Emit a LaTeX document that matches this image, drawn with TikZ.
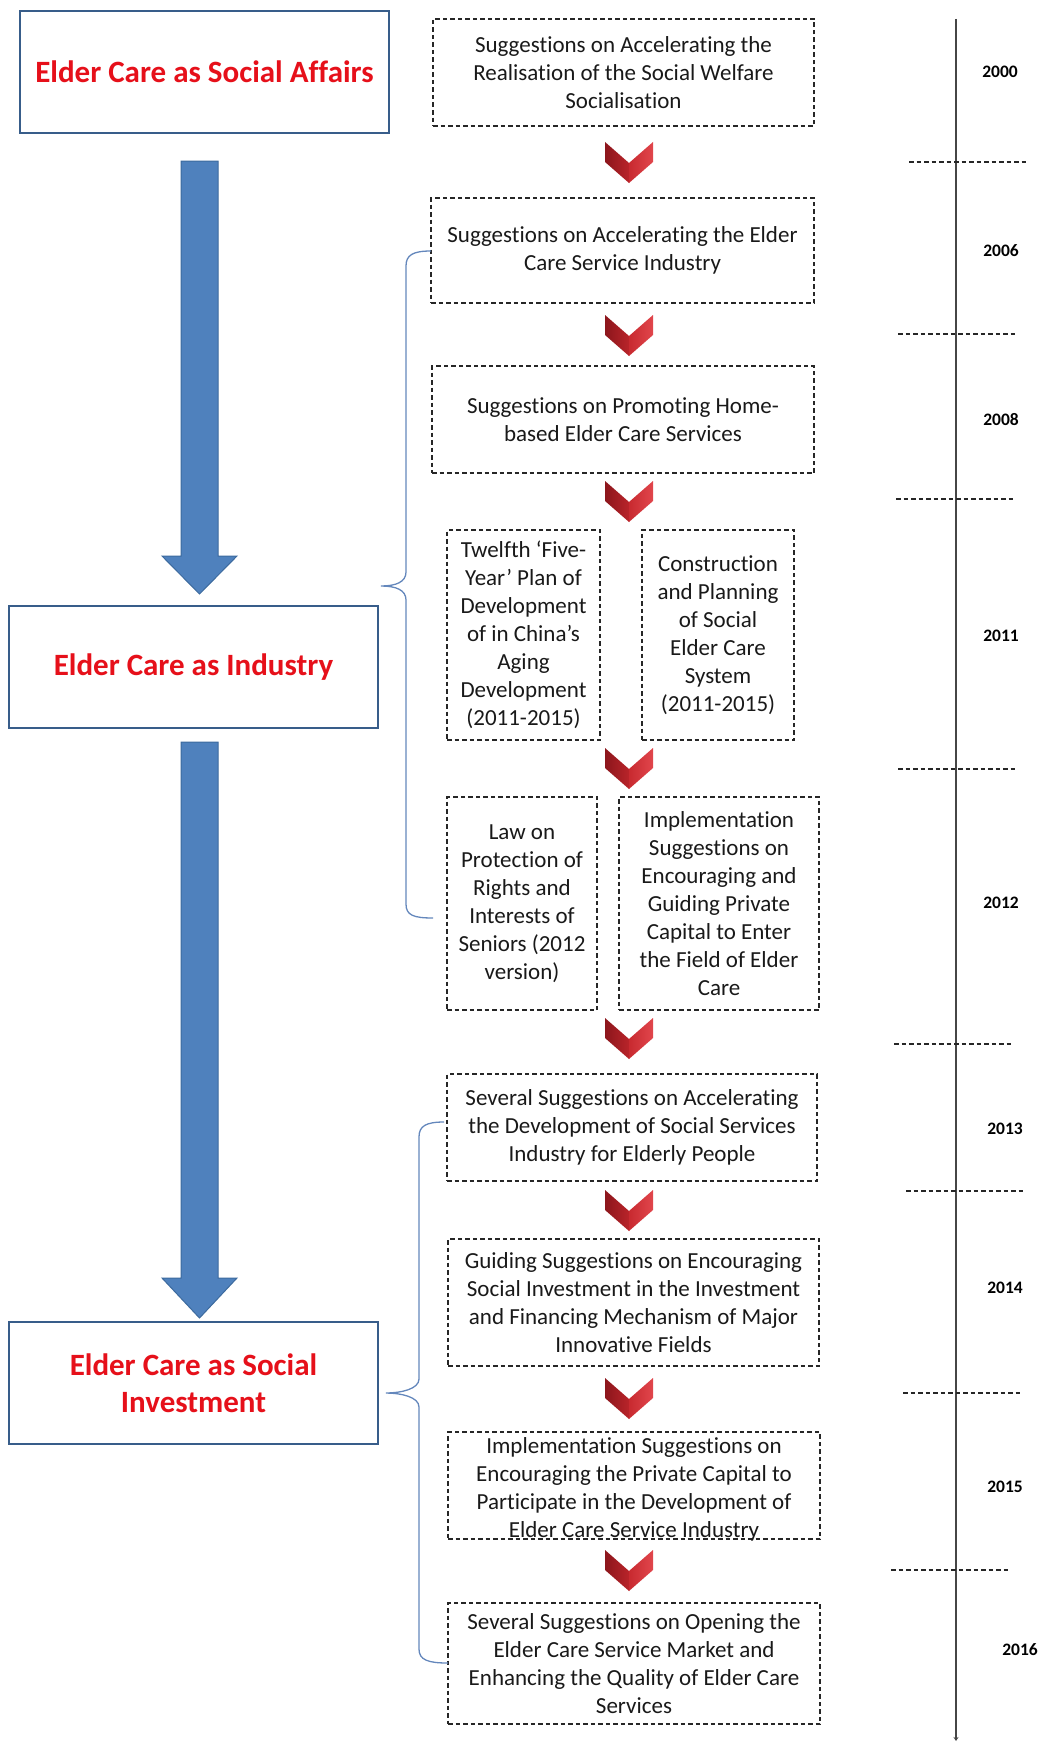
\documentclass[tikz,border=0pt]{standalone}
\usepackage{fontspec}
\setmainfont[Ligatures=CommonOff]{Carlito}
\usetikzlibrary{arrows.meta}

\definecolor{stageblue}{RGB}{56,93,138}
\definecolor{headred}{RGB}{230,16,26}
\definecolor{arrowfill}{RGB}{79,129,189}
\definecolor{arrowline}{RGB}{60,106,158}
\definecolor{bracecol}{RGB}{100,135,188}
\definecolor{chevdarkA}{RGB}{140,22,28}
\definecolor{chevdarkB}{RGB}{185,36,42}
\definecolor{chevlightA}{RGB}{200,42,48}
\definecolor{chevlightB}{RGB}{225,70,76}
\definecolor{lineGray}{RGB}{70,70,70}

\tikzset{
  stage/.style={draw=stageblue, line width=2.2pt, fill=white, minimum width=369pt,
    minimum height=122pt, inner sep=0pt, text=headred, align=center,
    font=\fontsize{31}{37.5}\selectfont\bfseries},
  pbox/.style={draw=black!85, dash pattern=on 4.5pt off 3pt, line width=1.1pt, inner sep=0pt},
  ptext/.style={font=\fontsize{23}{28}\selectfont, align=center, inner sep=0pt, text=black!90},
  yearlbl/.style={font=\fontsize{17.5}{20}\selectfont\bfseries, inner sep=0pt},
  blockarrow/.style={fill=arrowfill, draw=arrowline, line width=1pt, line join=miter},
  brace/.style={draw=bracecol, line width=1.3pt},
  sepline/.style={draw=black!85, dash pattern=on 4.5pt off 3pt, line width=1.1pt},
  timeline/.style={draw=lineGray, line width=1.6pt},
  chev/.pic={
    \shade[left color=chevdarkA, right color=chevdarkB]
      (-24,0) -- (0,21) -- (0,41) -- (-24,20) -- cycle;
    \shade[left color=chevlightA, right color=chevlightB]
      (24,0) -- (0,21) -- (0,41) -- (24,20) -- cycle;
  }
}

\begin{document}
\begin{tikzpicture}[x=1pt,y=-1pt]
\useasboundingbox (0,0) rectangle (1041,1742);

% ---- stages on the left ----
\node[stage] (affairs) at (204.5,72) {Elder Care as Social Affairs};
\node[stage] (industry) at (193.5,667) {Elder Care as Industry};
\node[stage] (invest) at (193.5,1383) {Elder Care as Social\\Investment};

% block arrows between the stages
\coordinate (a1s) at (199.5,161);
\coordinate (a1e) at (199.5,594);
\coordinate (a2s) at (199.5,742);
\coordinate (a2e) at (199.5,1318);
\draw[blockarrow] (a1s) ++(-18.5,0) -- ++(0,395) -- ++(-19,0) -- (a1e)
  -- ++(37.5,-38) -- ++(-19,0) -- ++(0,-395) -- cycle;
\draw[blockarrow] (a2s) ++(-18.5,0) -- ++(0,536) -- ++(-19,0) -- (a2e)
  -- ++(37.5,-40) -- ++(-19,0) -- ++(0,-536) -- cycle;

% ---- policy documents ----
\node[pbox, minimum width=381pt, minimum height=107pt] (b1) at (623.5,72.5) {};
\node[ptext] (t1) at (b1) {Suggestions on Accelerating the\\Realisation of the Social Welfare\\Socialisation};

\node[pbox, minimum width=383pt, minimum height=105pt] (b2) at (622.5,250.5) {};
\node[ptext] (t2) at (b2) {Suggestions on Accelerating the Elder\\Care Service Industry};

\node[pbox, minimum width=382pt, minimum height=107pt] (b3) at (623,419.5) {};
\node[ptext] (t3) at (b3) {Suggestions on Promoting Home-\\based Elder Care Services};

\node[pbox, minimum width=153pt, minimum height=210pt] (b4a) at (523.5,635) {};
\node[ptext] (t4a) at (b4a) {Twelfth ‘Five-\\Year’ Plan of\\Development\\of in China’s\\Aging\\Development\\(2011-2015)};

\node[pbox, minimum width=152pt, minimum height=210pt] (b4b) at (718,635) {};
\node[ptext] (t4b) at (b4b) {Construction\\and Planning\\of Social\\Elder Care\\System\\(2011-2015)};

\node[pbox, minimum width=150pt, minimum height=213pt] (b5a) at (522,903.5) {};
\node[ptext] (t5a) at (b5a) {Law on\\Protection of\\Rights and\\Interests of\\Seniors (2012\\version)};

\node[pbox, minimum width=200pt, minimum height=213pt] (b5b) at (719,903.5) {};
\node[ptext] (t5b) at (b5b) {Implementation\\Suggestions on\\Encouraging and\\Guiding Private\\Capital to Enter\\the Field of Elder\\Care};

\node[pbox, minimum width=370pt, minimum height=107pt] (b6) at (632,1127.5) {};
\node[ptext] (t6) at (b6) {Several Suggestions on Accelerating\\the Development of Social Services\\Industry for Elderly People};

\node[pbox, minimum width=371pt, minimum height=127pt] (b7) at (633.5,1302.5) {};
\node[ptext] (t7) at (b7) {Guiding Suggestions on Encouraging\\Social Investment in the Investment\\and Financing Mechanism of Major\\Innovative Fields};

\node[pbox, minimum width=372pt, minimum height=107pt] (b8) at (634,1485.5) {};
\node[ptext] (t8) at ([yshift=-4pt]b8.center) {Implementation Suggestions on\\Encouraging the Private Capital to\\Participate in the Development of\\Elder Care Service Industry};

\node[pbox, minimum width=372pt, minimum height=121pt] (b9) at (634,1663.5) {};
\node[ptext] (t9) at (b9) {Several Suggestions on Opening the\\Elder Care Service Market and\\Enhancing the Quality of Elder Care\\Services};

% chevrons between the documents
\pic (c1) at (629,142) {chev};
\pic (c2) at (629,315) {chev};
\pic (c3) at (629,481) {chev};
\pic (c4) at (629,748) {chev};
\pic (c5) at (629,1018) {chev};
\pic (c6) at (629,1190) {chev};
\pic (c7) at (629,1378) {chev};
\pic (c8) at (629,1550) {chev};

% ---- braces grouping documents by stage ----
\coordinate (br1a) at (431,251);
\coordinate (br1m) at (381,586);
\coordinate (br1b) at (433,918);
\draw[brace] (br1a) .. controls (413,251) and (406,255) .. (406,266)
  -- (406,572) .. controls (406,582) and (396,586) .. (br1m)
  .. controls (396,586) and (406,590) .. (406,600)
  -- (406,904) .. controls (406,915) and (413,918) .. (br1b);

\coordinate (br2a) at (444,1122);
\coordinate (br2m) at (386,1393);
\coordinate (br2b) at (448,1663);
\draw[brace] (br2a) .. controls (426,1122) and (419,1126) .. (419,1137)
  -- (419,1379) .. controls (419,1389) and (401,1393) .. (br2m)
  .. controls (401,1393) and (419,1397) .. (419,1407)
  -- (419,1649) .. controls (419,1660) and (428,1663) .. (br2b);

% ---- timeline ----
\coordinate (tltop) at (956,19);
\coordinate (tlbot) at (956,1741);
\draw[timeline, -{Stealth[length=4pt,width=5pt]}] (tltop) -- (tlbot);

\node[yearlbl] (y2000) at (1000,72) {2000};
\node[yearlbl] (y2006) at (1001,251) {2006};
\node[yearlbl] (y2008) at (1001,420) {2008};
\node[yearlbl] (y2011) at (1001,636) {2011};
\node[yearlbl] (y2012) at (1001,903) {2012};
\node[yearlbl] (y2013) at (1005,1129) {2013};
\node[yearlbl] (y2014) at (1005,1288) {2014};
\node[yearlbl] (y2015) at (1005,1487) {2015};
\node[yearlbl] (y2016) at (1020,1650) {2016};

% dashed year separators
\coordinate (s1a) at (909,162);  \coordinate (s1b) at (1028,162);
\coordinate (s2a) at (898,334);  \coordinate (s2b) at (1017,334);
\coordinate (s3a) at (896,499);  \coordinate (s3b) at (1014,499);
\coordinate (s4a) at (898,769);  \coordinate (s4b) at (1017,769);
\coordinate (s5a) at (894,1044); \coordinate (s5b) at (1014,1044);
\coordinate (s6a) at (906,1191); \coordinate (s6b) at (1024,1191);
\coordinate (s7a) at (903,1393); \coordinate (s7b) at (1022,1393);
\coordinate (s8a) at (891,1570); \coordinate (s8b) at (1009,1570);
\foreach \s in {1,...,8} \draw[sepline] (s\s a) -- (s\s b);
\end{tikzpicture}
\end{document}
